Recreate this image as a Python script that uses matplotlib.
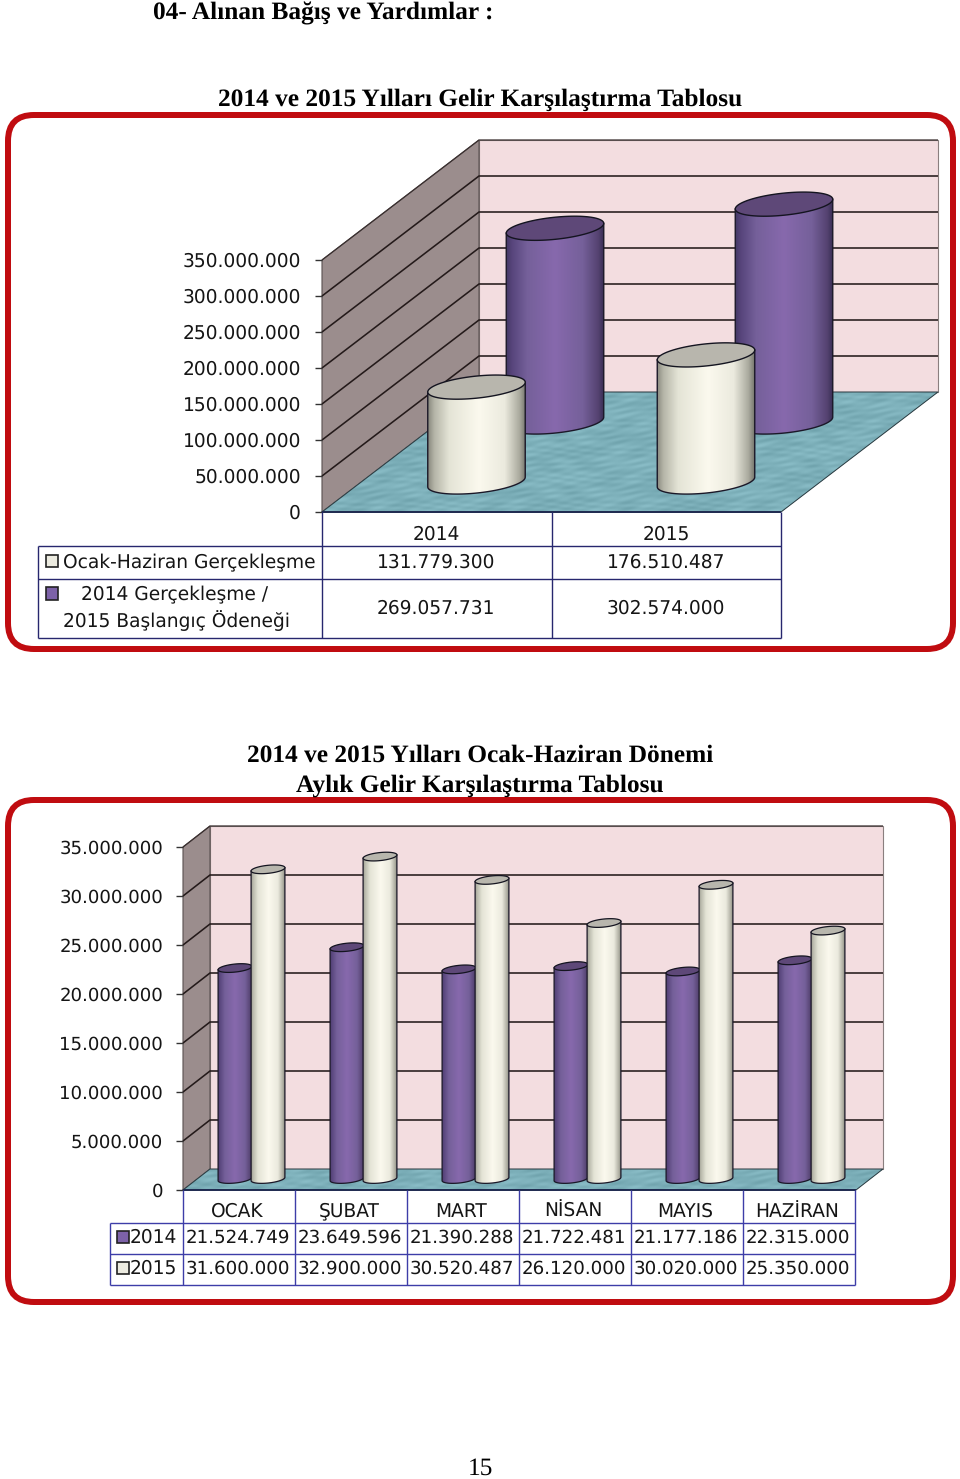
import numpy as np
import matplotlib
matplotlib.use("Agg")
import matplotlib.pyplot as plt
from matplotlib.patches import FancyBboxPatch, Polygon, PathPatch, Rectangle
from matplotlib.path import Path
from matplotlib.transforms import Affine2D

plt.rcParams["text.hinting"] = "no_hinting"
plt.rcParams["text.hinting_factor"] = 8

# ---- data ----
years = ["2014", "2015"]
ocak_haziran = [131779300, 176510487]
baslangic = [269057731, 302574000]
ticks_1 = [0, 50000000, 100000000, 150000000, 200000000, 250000000, 300000000, 350000000]

months = ["OCAK", "ŞUBAT", "MART", "NİSAN", "MAYIS", "HAZİRAN"]
aylik_2014 = [21524749, 23649596, 21390288, 21722481, 21177186, 22315000]
aylik_2015 = [31600000, 32900000, 30520487, 26120000, 30020000, 25350000]
ticks_2 = [0, 5000000, 10000000, 15000000, 20000000, 25000000, 30000000, 35000000]

# ---- styles ----
RED = "#c00c10"
PINK = "#f3dde0"
SIDE = "#9b8d8d"
GRID = "#241a1a"
NAVY = "#27276e"
BLUE = "#3d3da8"
PURPLE = {"pos": [0, .06, .22, .5, .78, .94, 1],
          "stops": ["#3f3560", "#56447a", "#75609a", "#8769ad", "#75609a", "#544270", "#352b50"],
          "cap": "#5e4878", "swatch": "#7d62a8"}
CREAM = {"pos": [0, .07, .22, .52, .78, .93, 1],
         "stops": ["#85857a", "#b5b5a8", "#e4e4d6", "#fbf9ee", "#ebeade", "#aaaa9e", "#6f6f66"],
         "cap": "#b8b6ad", "swatch": "#ecebe0"}
SANS = "DejaVu Sans"
SERIF = "Liberation Serif"

fig = plt.figure(figsize=(9.6, 14.79), dpi=100)
ax = fig.add_axes([0, 0, 1, 1])
ax.set_xlim(0, 960)
ax.set_ylim(1479, 0)
ax.axis("off")
z = [1]


def nz():
    z[0] += 1
    return z[0]


def px(s):
    return s * 72 / 100


def fmt(v):
    return f"{v:,}".replace(",", ".")


def txt(x, y, s, size=18.6, ha="center", family=SANS, weight="normal", color="#151515"):
    ax.text(x, y + 1.3, s, fontsize=px(size), ha=ha, va="center", family=family, weight=weight, color=color, zorder=500)


def line(xs, ys, color=GRID, lw=1.0):
    ax.plot(xs, ys, color=color, lw=lw, solid_capstyle="butt", zorder=nz())


def grad(style):
    rgb = np.array([matplotlib.colors.to_rgb(c) for c in style["stops"]])
    q = np.linspace(0, 1, 96)
    return np.dstack([np.interp(q, style["pos"], rgb[:, i]) for i in range(3)])


def ell(cx, cy, a, b, th, t):
    ux, uy = a * np.cos(th), -a * np.sin(th)
    vx, vy = b * np.sin(th), b * np.cos(th)
    return cx + ux * np.cos(t) + vx * np.sin(t), cy + uy * np.cos(t) + vy * np.sin(t)


def cylinder(cx, base, top, a, b, style, lw=1.0):
    th = np.radians(6)
    t0 = np.arctan2(b * np.sin(th), a * np.cos(th))
    t = np.linspace(t0, t0 + np.pi, 60)
    bx, by = ell(cx, base, a, b, th, t)
    rx, ry = ell(cx, top, a, b, th, np.array([t0, t0 + np.pi]))
    xs = np.r_[rx[0], bx, rx[1], rx[0]]
    ys = np.r_[ry[0], by, ry[1], ry[0]]
    path = Path(np.c_[xs, ys])
    zi = nz()
    clip = PathPatch(path, transform=ax.transData, fc="none", ec="none", zorder=zi)
    ax.add_patch(clip)
    w = bx.max() - bx.min()
    im = ax.imshow(grad(style), extent=(cx - w / 2 - 1, cx + w / 2 + 1, base + b + 2, top - b - 2),
                   aspect="auto", interpolation="bilinear", zorder=zi)
    im.set_clip_path(clip)
    ax.plot(xs[:-1], ys[:-1], color="#1b1828", lw=lw, zorder=nz())
    ct = np.linspace(0, 2 * np.pi, 100)
    ex, ey = ell(cx, top, a, b, th, ct)
    ax.add_patch(Polygon(np.c_[ex, ey], closed=True, fc=style["cap"], ec="#141420", lw=lw, zorder=nz()))


def floor(pts):
    zi = nz()
    poly = Polygon(pts, closed=True, fc="#7fb0ba", ec="none", zorder=zi)
    ax.add_patch(poly)
    xs = np.array([p[0] for p in pts])
    ys = np.array([p[1] for p in pts])
    X, Y = np.meshgrid(np.arange(xs.min(), xs.max(), 2.0), np.arange(ys.min(), ys.max(), 1.0))
    n = np.sin(X * 0.09 + 2.5 * np.sin(Y * 0.23)) * np.sin(Y * 0.61 + 1.5 * np.sin(X * 0.05)) + 0.4 * np.sin(X * 0.31 + Y * 0.9)
    base = np.array(matplotlib.colors.to_rgb("#7db0ba"))
    img = np.clip(base[None, None, :] + n[..., None] * 0.035, 0, 1)
    im = ax.imshow(img, extent=(xs.min(), xs.max(), ys.max(), ys.min()), aspect="auto", interpolation="bilinear", zorder=zi)
    im.set_clip_path(poly)
    ax.plot(list(xs) + [xs[0]], list(ys) + [ys[0]], color="#2a3a40", lw=0.7, zorder=nz())


def frame(y0, y1):
    ax.add_patch(FancyBboxPatch((8, y0), 945, y1 - y0, boxstyle="round,pad=0,rounding_size=26",
                                fc="white", ec=RED, lw=px(6), zorder=nz()))


def walls(x0, x1, xr, y0, scale, dx, dy, tick_vals, tick_x, tick_size):
    """Pixel layout of the 3-D box; y scale maps a value to a screen y."""
    ys = Affine2D().scale(1, -scale).translate(0, y0)
    Y = lambda v: ys.transform((0, v))[1]
    top = Y(tick_vals[-1])
    ax.add_patch(Polygon([(x0 + dx, top - dy), (xr, top - dy), (xr, y0 - dy), (x0 + dx, y0 - dy)], closed=True,
                         fc=PINK, ec="#8a7f7f", lw=0.8, zorder=nz()))
    ax.add_patch(Polygon([(x0, top), (x0 + dx, top - dy), (x0 + dx, y0 - dy), (x0, y0)], closed=True,
                         fc=SIDE, ec="#5a5050", lw=0.8, zorder=nz()))
    floor([(x0, y0), (x0 + dx, y0 - dy), (xr, y0 - dy), (xr - dx, y0)])
    for v in tick_vals[1:-1]:
        y = Y(v)
        line([x0, x0 + dx, xr], [y, y - dy, y - dy], lw=1.15)
    line([x0, x0 + dx, xr], [top, top - dy, top - dy], color="#3a3030", lw=0.9)
    for v in tick_vals:
        y = Y(v)
        line([x0 - 7, x0], [y, y], color="#333333", lw=1.0)
        txt(tick_x, y, fmt(v), ha="right", size=tick_size)
    line([x0, xr - dx], [y0, y0], color="#1f2a50", lw=1.4)
    return Y


# ---- page text ----
TS = 25.4
txt(153, 12, "04- Alınan Bağış ve Yardımlar :", size=TS, ha="left", family=SERIF, weight="bold", color="black")
txt(480, 99, "2014 ve 2015 Yılları Gelir Karşılaştırma Tablosu", size=TS, family=SERIF, weight="bold", color="black")
txt(480, 754, "2014 ve 2015 Yılları Ocak-Haziran Dönemi", size=TS, family=SERIF, weight="bold", color="black")
txt(480, 784, "Aylık Gelir Karşılaştırma Tablosu", size=TS, family=SERIF, weight="bold", color="black")
txt(480, 1467, "15", size=TS, family=SERIF, color="black")

# ---- chart 1 ----
frame(115, 649)
Y1 = walls(322, 479, 938, 512, 252 / 350e6, 157, 120, ticks_1, 301, 18.6)
base_f, base_b = 482, 422
scale1 = 252 / 350e6
for cx, v in zip([555, 784], baslangic):
    cylinder(cx, base_b, base_b - v * scale1, 49, 11, PURPLE, lw=1.0)
for cx, v in zip([476.5, 706], ocak_haziran):
    cylinder(cx, base_f, base_f - v * scale1, 49, 11, CREAM, lw=1.0)

for x in [322, 552, 781]:
    line([x, x], [512, 638], color=NAVY)
line([38, 38], [546, 638], color=NAVY)
for y in [546, 579, 638]:
    line([38, 781], [y, y], color=NAVY)
for i, cx in enumerate([436, 666]):
    txt(cx, 533, years[i])
    txt(cx, 561, fmt(ocak_haziran[i]))
    txt(cx, 607, fmt(baslangic[i]))
ax.add_patch(Rectangle((46, 555), 12, 12, fc=CREAM["swatch"], ec="#222222", lw=1.2, zorder=nz()))
ax.add_patch(Rectangle((46, 587), 12, 13, fc=PURPLE["swatch"], ec="#222222", lw=1.2, zorder=nz()))
txt(63, 561.5, "Ocak-Haziran Gerçekleşme", size=18.6, ha="left")
txt(81, 594, "2014 Gerçekleşme /", size=18.6, ha="left")
txt(63, 619.5, "2015 Başlangıç Ödeneği", size=18.6, ha="left")

# ---- chart 2 ----
frame(800, 1302)
Y2 = walls(183, 210, 883, 1190, 343 / 35e6, 27, 21, ticks_2, 163, 18.2)
scale2 = 343 / 35e6
base2 = 1179
cols = [183 + 112 * i for i in range(7)]
for i in range(6):
    cylinder(235 + 112 * i, base2, base2 - aylik_2014[i] * scale2, 17, 4, PURPLE, lw=0.9)
    cylinder(268 + 112 * i, base2, base2 - aylik_2015[i] * scale2, 17, 4, CREAM, lw=0.9)

for x in cols:
    line([x, x], [1190, 1285], color=BLUE)
line([110, 110], [1223, 1285], color=BLUE)
for y in [1223, 1254, 1285]:
    line([110, 855], [y, y], color=BLUE)
for i in range(6):
    cx = cols[i] + 54.5
    txt(cx, 1210, months[i], size=18.6)
    txt(cx, 1236, fmt(aylik_2014[i]), size=18.3)
    txt(cx, 1267, fmt(aylik_2015[i]), size=18.3)
ax.add_patch(Rectangle((117, 1231), 12, 12, fc=PURPLE["swatch"], ec="#222222", lw=1.2, zorder=nz()))
ax.add_patch(Rectangle((117, 1262), 12, 12, fc=CREAM["swatch"], ec="#222222", lw=1.2, zorder=nz()))
txt(130, 1236, "2014", size=18.6, ha="left")
txt(130, 1267, "2015", size=18.6, ha="left")

ax.set_xlim(0, 960)
ax.set_ylim(1479, 0)
fig.savefig("out.png", dpi=100, facecolor="white")
